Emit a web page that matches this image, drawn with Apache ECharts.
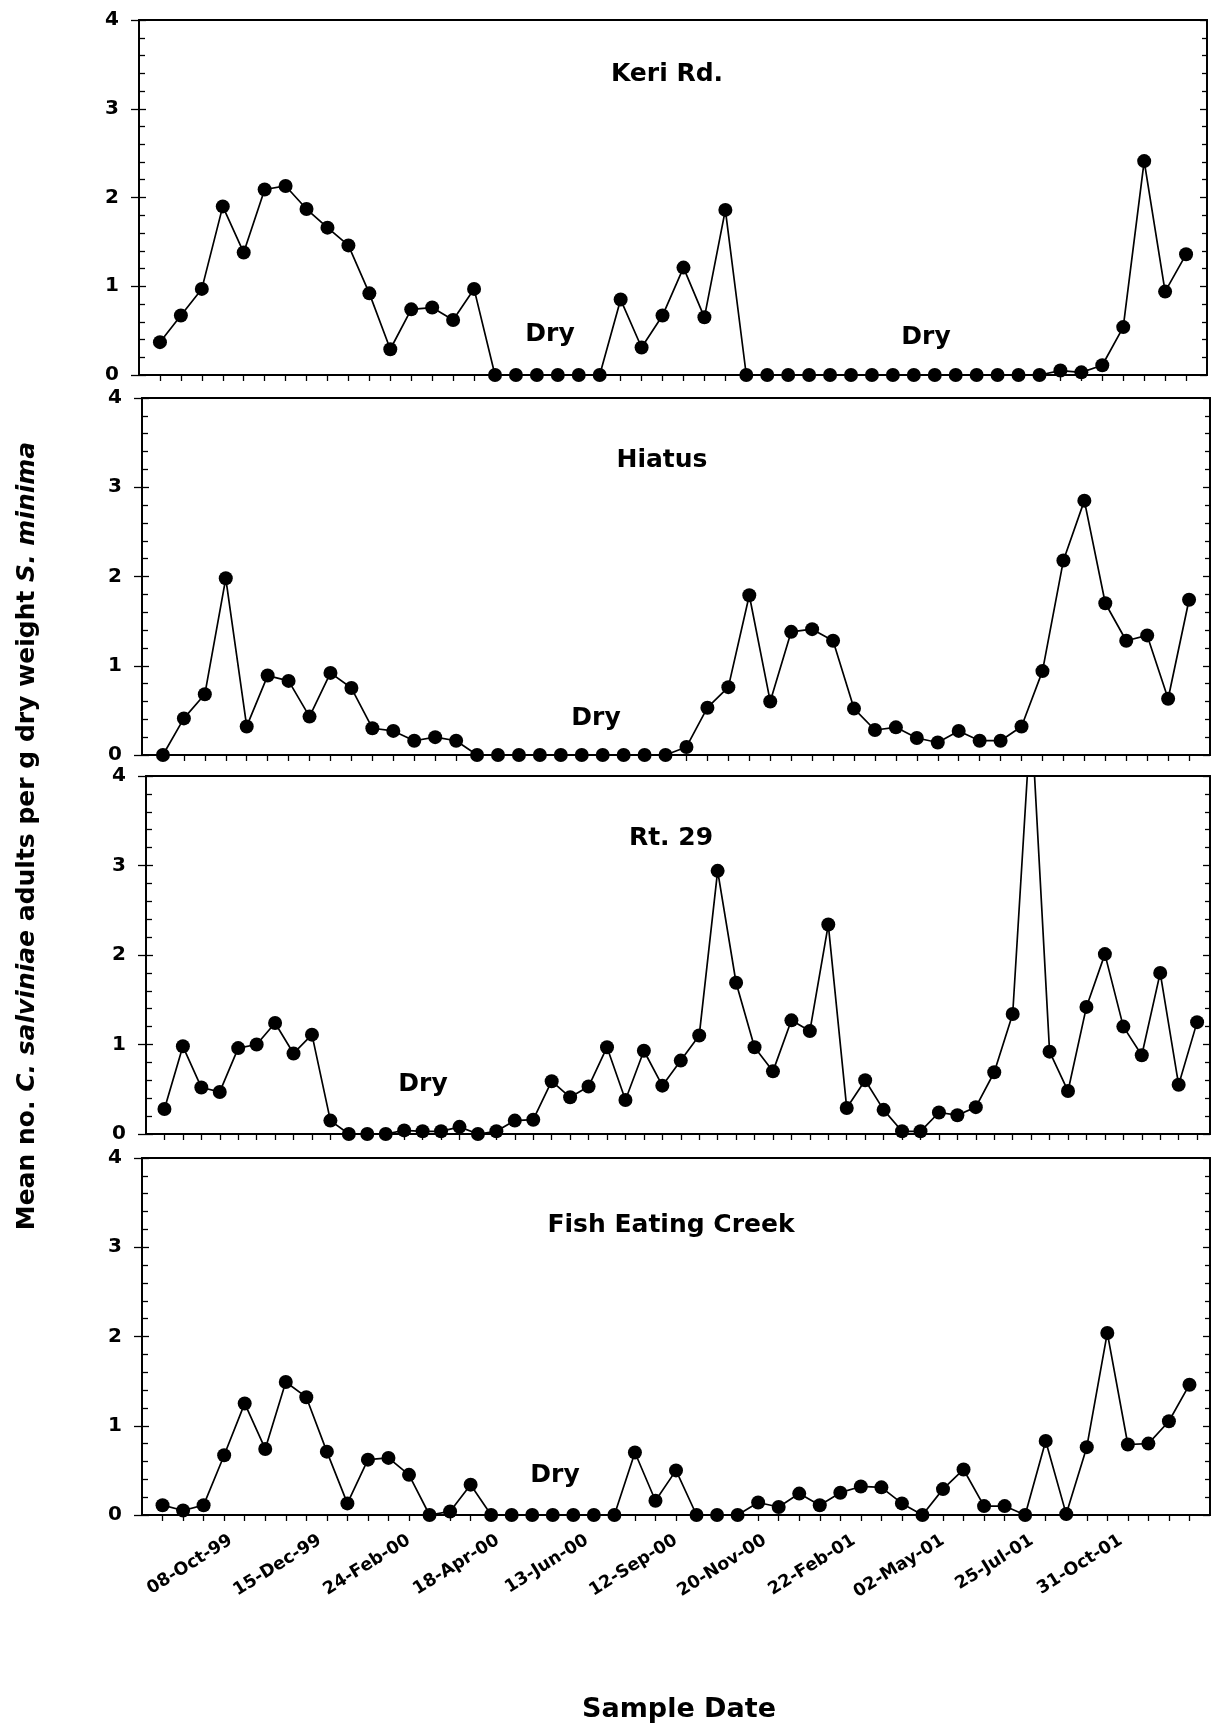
<!DOCTYPE html>
<html><head><meta charset="utf-8">
<script src="https://cdn.jsdelivr.net/npm/echarts@6/dist/echarts.min.js"></script>
<style>html,body{margin:0;padding:0;background:#fff}#chart{width:1213px;height:1731px}</style>
</head><body><div id="chart"></div>
<script>
// ---- data ----
const keriRd = [0.37,0.67,0.97,1.90,1.38,2.09,2.13,1.87,1.66,1.46,0.92,0.29,0.74,0.76,0.62,0.97,
  0,0,0,0,0,0,
  0.85,0.31,0.67,1.21,0.65,1.86,
  0,0,0,0,0,0,0,0,0,0,0,0,0,0,0,
  0.05,0.03,0.11,0.54,2.41,0.94,1.36];
const hiatus = [0,0.41,0.68,1.98,0.32,0.89,0.83,0.43,0.92,0.75,0.30,0.27,0.16,0.20,0.16,
  0,0,0,0,0,0,0,0,0,0,
  0.09,0.53,0.76,1.79,0.60,1.38,1.41,1.28,0.52,0.28,0.31,0.19,0.14,0.27,0.16,0.16,0.32,0.94,2.18,2.85,1.70,1.28,1.34,0.63,1.74];
const rt29 = [0.28,0.98,0.52,0.47,0.96,1.00,1.24,0.90,1.11,0.15,
  0,0,0,0.04,0.03,0.03,0.08,0,0.03,0.15,
  0.16,0.59,0.41,0.53,0.97,0.38,0.93,0.54,0.82,1.10,
  2.94,1.69,0.97,0.70,1.27,1.15,2.34,0.29,0.60,0.27,
  0.03,0.03,0.24,0.21,0.30,0.69,1.34,4.7,0.92,0.48,
  1.42,2.01,1.20,0.88,1.80,0.55,1.25];
const fishEatingCreek = [0.11,0.05,0.11,0.67,1.25,0.74,1.49,1.32,0.71,0.13,
  0.62,0.64,0.45,0,0.04,0.34,0,0,0,0,
  0,0,0,0.70,0.16,0.50,0,0,0,0.14,
  0.09,0.24,0.11,0.25,0.32,0.31,0.13,0,0.29,0.51,
  0.10,0.10,0,0.83,0.01,0.76,2.04,0.79,0.80,1.05,1.46];
const siteNames = ['Keri Rd.', 'Hiatus', 'Rt. 29', 'Fish Eating Creek'];
const dateLabels = ['08-Oct-99','15-Dec-99','24-Feb-00','18-Apr-00','13-Jun-00','12-Sep-00',
  '20-Nov-00','22-Feb-01','02-May-01','25-Jul-01','31-Oct-01'];
const dryLabel = 'Dry';
const yTitleParts = ['Mean no. ', 'C. salviniae', ' adults per g dry weight ', 'S. minima'];
const xTitle = 'Sample Date';

// ---- layout ----
const FONT = '"DejaVu Sans", "Liberation Sans", Arial, sans-serif';
const panels = [
  {data: keriRd, left: 139, right: 6, top: 20, height: 355, xMin: -1, xMax: 50, title: [667, 74], dry: [[550, 334], [926, 337]]},
  {data: hiatus, left: 142, right: 3, top: 398, height: 357, xMin: -1, xMax: 50, title: [662, 460], dry: [[596, 718]]},
  {data: rt29, left: 146, right: 3, top: 776, height: 358, xMin: -1, xMax: 56.7, title: [671, 838], dry: [[423, 1084]]},
  {data: fishEatingCreek, left: 142, right: 3, top: 1158, height: 357, xMin: -1, xMax: 51, title: [671, 1225], dry: [[555, 1475]]}
];
const black = '#000';
const grids = [], xAxes = [], yAxes = [], series = [], graphics = [];

panels.forEach((p, i) => {
  grids.push({left: p.left, right: p.right, top: p.top, height: p.height, show: true,
    borderColor: black, borderWidth: 1.8, backgroundColor: 'transparent'});
  xAxes.push({type: 'value', gridIndex: i, min: p.xMin, max: p.xMax, position: 'bottom',
    axisLine: {show: true, onZero: false, lineStyle: {color: black, width: 1.8}},
    axisTick: {show: true, inside: false, length: 6, customValues: p.data.map((_, k) => k),
      lineStyle: {color: black, width: 1.3}},
    axisLabel: {show: false}, splitLine: {show: false}});
  // left axis: labels + outward major ticks
  yAxes.push({type: 'value', gridIndex: i, min: 0, max: 4, interval: 1, position: 'left',
    axisLine: {show: true, onZero: false, lineStyle: {color: black, width: 1.8}},
    axisTick: {show: true, inside: false, length: 8, lineStyle: {color: black, width: 1.3}},
    axisLabel: {show: true, margin: 20, fontFamily: FONT, fontWeight: 'bold', fontSize: 20, color: black},
    splitLine: {show: false}});
  // left axis: inward ticks with minor ticks
  yAxes.push({type: 'value', gridIndex: i, min: 0, max: 4, interval: 1, position: 'left',
    axisLine: {show: false, onZero: false},
    axisTick: {show: true, inside: true, length: 7, lineStyle: {color: black, width: 1.3}},
    minorTick: {show: true, splitNumber: 5, length: 6, lineStyle: {color: black, width: 1.3}},
    axisLabel: {show: false}, splitLine: {show: false}, minorSplitLine: {show: false}});
  // right axis: inward ticks
  yAxes.push({type: 'value', gridIndex: i, min: 0, max: 4, interval: 1, position: 'right',
    axisLine: {show: true, onZero: false, lineStyle: {color: black, width: 1.8}},
    axisTick: {show: true, inside: true, length: 7, lineStyle: {color: black, width: 1.3}},
    minorTick: {show: true, splitNumber: 5, length: 5, lineStyle: {color: black, width: 1.3}},
    axisLabel: {show: false}, splitLine: {show: false}, minorSplitLine: {show: false}});
  series.push({type: 'line', name: siteNames[i], xAxisIndex: i, yAxisIndex: 3 * i,
    data: p.data.map((v, k) => [k, v]), symbol: 'circle', symbolSize: 14, clip: true,
    itemStyle: {color: black, borderWidth: 0}, lineStyle: {color: black, width: 1.7},
    emphasis: {disabled: true}, animation: false});
  graphics.push({type: 'text', x: p.title[0], y: p.title[1],
    style: {text: siteNames[i], fontFamily: FONT, fontWeight: 'bold', fontSize: 25, fill: black,
      align: 'center', verticalAlign: 'middle'}});
  p.dry.forEach(d => graphics.push({type: 'text', x: d[0], y: d[1],
    style: {text: dryLabel, fontFamily: FONT, fontWeight: 'bold', fontSize: 25, fill: black,
      align: 'center', verticalAlign: 'middle'}}));
});

// date label axis under the bottom panel (evenly spaced labels)
xAxes.push({type: 'value', gridIndex: 3, min: 0, max: dateLabels.length + 1, position: 'bottom',
  axisLine: {show: false, onZero: false}, axisTick: {show: false}, splitLine: {show: false},
  axisLabel: {show: true, customValues: dateLabels.map((_, k) => k + 1),
    formatter: v => dateLabels[Math.round(v) - 1] || '', rotate: 32, margin: 24,
    fontFamily: FONT, fontWeight: 'bold', fontSize: 17.5, color: black}});

graphics.push({type: 'text', x: 27, y: 836, rotation: Math.PI / 2,
  style: {text: '{b|' + yTitleParts[0] + '}{i|' + yTitleParts[1] + '}{b|' + yTitleParts[2] + '}{i|' + yTitleParts[3] + '}',
    rich: {b: {fontFamily: FONT, fontWeight: 'bold', fontSize: 25, fill: black},
           i: {fontFamily: FONT, fontWeight: 'bold', fontStyle: 'italic', fontSize: 25, fill: black}},
    align: 'center', verticalAlign: 'middle', fill: black}});
graphics.push({type: 'text', x: 679, y: 1710,
  style: {text: xTitle, fontFamily: FONT, fontWeight: 'bold', fontSize: 27, fill: black,
    align: 'center', verticalAlign: 'middle'}});

const chart = echarts.init(document.getElementById('chart'), null, {renderer: 'canvas'});
chart.setOption({
  animation: false, backgroundColor: '#fff',
  grid: grids, xAxis: xAxes, yAxis: yAxes, series: series, graphic: graphics
});
</script></body></html>
